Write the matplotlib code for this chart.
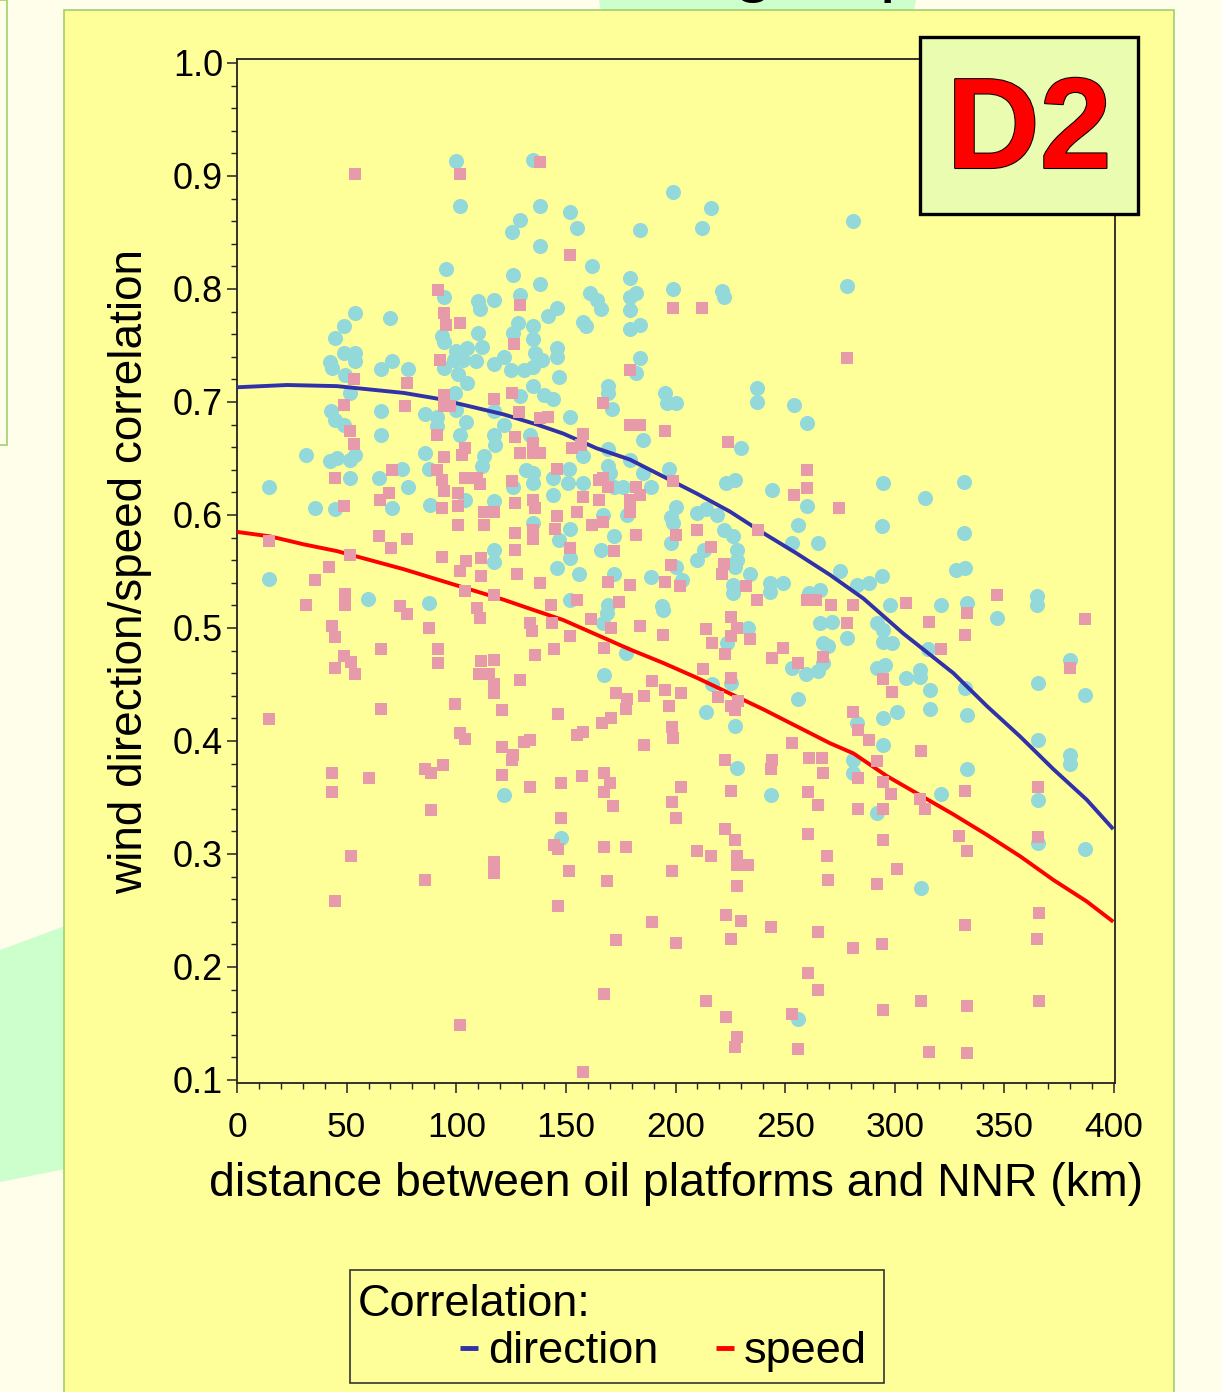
import matplotlib
matplotlib.use("Agg")
import matplotlib.pyplot as plt
import matplotlib.patheffects as pe
from matplotlib.lines import Line2D
from matplotlib.patches import Rectangle, Polygon
from matplotlib.ticker import MultipleLocator, FixedLocator

plt.rcParams["font.family"] = ["Liberation Sans", "DejaVu Sans"]

# ---- data: (distance km, correlation) ----
direction_pts = [
    (100, 0.913), (135, 0.914), (101.5, 0.873), (129, 0.861), (125.4, 0.85), (138, 0.873),
    (152, 0.868), (155, 0.854), (199, 0.886), (216, 0.872), (212, 0.854), (184, 0.852),
    (281, 0.86), (278, 0.803), (138, 0.838), (162, 0.82), (95.4, 0.818), (126, 0.812),
    (138, 0.804), (179, 0.81), (161, 0.796), (164, 0.79), (166, 0.782), (179, 0.793),
    (182, 0.796), (179, 0.781), (199, 0.80), (221, 0.798), (222, 0.793), (94.5, 0.793),
    (129, 0.795), (110, 0.789), (117, 0.79), (111, 0.782), (146, 0.783), (142, 0.776),
    (54, 0.779), (69.6, 0.774), (48.6, 0.767), (44.5, 0.757), (158, 0.771), (159, 0.767),
    (179, 0.765), (184, 0.768), (135, 0.767), (135, 0.756), (93.5, 0.758), (94.2, 0.753),
    (110, 0.761), (111.7, 0.749), (128, 0.77), (126, 0.761), (146, 0.748), (146, 0.74),
    (136, 0.743), (139, 0.737), (135, 0.731), (184, 0.739), (147, 0.722), (182, 0.726),
    (135, 0.714), (140, 0.706), (144, 0.703), (169, 0.714), (169, 0.708), (171, 0.694),
    (195, 0.708), (196, 0.699), (200, 0.699), (237, 0.712), (237, 0.70), (254, 0.697),
    (260, 0.681), (152, 0.687), (185, 0.666), (230, 0.659), (158, 0.652), (169, 0.658),
    (179, 0.649), (169, 0.643), (170, 0.637), (197, 0.641), (185, 0.637), (223, 0.628),
    (227, 0.631), (244, 0.622), (260, 0.608), (256, 0.591), (265, 0.575), (135, 0.637),
    (135, 0.628), (144, 0.633), (144, 0.618), (151, 0.628), (158, 0.628), (172, 0.625),
    (176, 0.625), (189, 0.625), (200, 0.607), (152, 0.588), (147, 0.578), (172, 0.581),
    (178, 0.60), (198, 0.598), (199, 0.593), (210, 0.602), (214, 0.605), (219, 0.60),
    (222, 0.587), (226, 0.581), (198, 0.575), (228, 0.569), (228, 0.56), (227, 0.554),
    (210, 0.56), (213, 0.569), (234, 0.548), (200, 0.554), (203, 0.542), (189, 0.545),
    (166, 0.569), (152, 0.562), (146, 0.553), (156, 0.548), (172, 0.548), (226, 0.538),
    (226, 0.531), (243, 0.54), (243, 0.532), (249, 0.54), (261, 0.531), (266, 0.534),
    (152, 0.525), (169, 0.52), (194, 0.519), (151.5, 0.641), (167, 0.60), (135, 0.593),
    (252.9, 0.575), (48.6, 0.743), (54, 0.743), (54, 0.736), (42.2, 0.735), (43.3, 0.73),
    (70.7, 0.736), (65.7, 0.729), (77.8, 0.729), (94.2, 0.73), (100, 0.745), (105, 0.748),
    (99, 0.737), (103, 0.737), (109, 0.736), (117, 0.734), (121.6, 0.74), (125, 0.728),
    (130.7, 0.728), (101, 0.725), (105, 0.717), (99.5, 0.708), (49.4, 0.724), (51.7, 0.708),
    (129, 0.705), (117, 0.692), (85.9, 0.689), (91, 0.687), (43, 0.692), (44.8, 0.684),
    (48.6, 0.68), (65.7, 0.692), (104.6, 0.682), (100, 0.693), (91, 0.679), (121.6, 0.68),
    (133.7, 0.671), (65.7, 0.671), (101.5, 0.671), (117, 0.671), (117.8, 0.662), (85.9, 0.655),
    (112.5, 0.652), (31.6, 0.653), (42.6, 0.648), (45.6, 0.65), (51.7, 0.649), (54, 0.653),
    (51.7, 0.633), (14.7, 0.625), (64.6, 0.633), (75.2, 0.641), (77.8, 0.625), (87.4, 0.641),
    (111.7, 0.643), (132, 0.64), (126, 0.625), (35.7, 0.606), (44.5, 0.605), (70.7, 0.606),
    (88.1, 0.609), (104, 0.613), (117, 0.612), (117.3, 0.569), (117.3, 0.558), (14.7, 0.543),
    (59.6, 0.526), (87.4, 0.522), (294.8, 0.628), (331.6, 0.629), (313.8, 0.615), (294, 0.59),
    (331.6, 0.584), (275, 0.55), (282.6, 0.538), (288, 0.54), (294, 0.546), (328, 0.551),
    (332, 0.553), (364.7, 0.528), (364.7, 0.52), (297.8, 0.52), (321, 0.52), (332.8, 0.522),
    (168.6, 0.513), (167, 0.504), (194.4, 0.516), (233.1, 0.5), (223.3, 0.487), (252.9, 0.465),
    (259.7, 0.459), (265, 0.462), (267.3, 0.487), (265.8, 0.504), (177.4, 0.478), (167.3, 0.458),
    (216.4, 0.45), (225.5, 0.451), (214.1, 0.426), (227.1, 0.413), (256, 0.437), (228.1, 0.376),
    (243.3, 0.352), (147.6, 0.314), (256, 0.154), (121.6, 0.352), (346.4, 0.509), (271.2, 0.505),
    (278, 0.491), (291.7, 0.504), (294.8, 0.498), (294.8, 0.488), (298.6, 0.487), (269.7, 0.484),
    (315.3, 0.481), (267.4, 0.469), (291.7, 0.465), (295.5, 0.467), (305.1, 0.456), (311.5, 0.463),
    (311.5, 0.457), (316.1, 0.445), (332, 0.447), (379.9, 0.472), (365.4, 0.451), (386.7, 0.441),
    (300.9, 0.426), (316.1, 0.428), (332.8, 0.423), (282.6, 0.416), (294.8, 0.42), (294.8, 0.396),
    (365.4, 0.401), (379.9, 0.388), (379.9, 0.38), (281.1, 0.383), (281.1, 0.372), (332.8, 0.375),
    (365.4, 0.348), (321, 0.353), (291.7, 0.336), (365.4, 0.31), (386.7, 0.304), (312, 0.27),
]

speed_pts = [
    (101.5, 0.902), (138, 0.912), (53.6, 0.902), (152, 0.83), (212, 0.783), (199, 0.783),
    (278, 0.739), (179, 0.728), (167, 0.699), (138, 0.686), (142, 0.687), (179, 0.68),
    (184, 0.68), (195, 0.674), (158, 0.672), (224, 0.665), (135, 0.664), (135, 0.655),
    (138, 0.655), (153, 0.659), (157, 0.662), (199, 0.63), (260, 0.64), (260, 0.624),
    (254, 0.618), (146, 0.641), (158, 0.616), (165, 0.631), (167, 0.633), (169, 0.625),
    (165, 0.613), (182, 0.625), (184, 0.618), (179, 0.613), (179, 0.603), (135, 0.613),
    (136, 0.606), (155, 0.603), (146, 0.599), (145, 0.588), (162, 0.591), (167, 0.594),
    (135, 0.587), (135, 0.579), (182, 0.582), (200, 0.582), (210, 0.587), (216, 0.572),
    (222, 0.557), (221, 0.548), (198, 0.556), (195, 0.541), (202, 0.537), (172, 0.568),
    (152, 0.571), (138, 0.54), (169, 0.541), (179, 0.538), (232, 0.537), (237, 0.525),
    (260, 0.525), (264, 0.525), (155, 0.525), (174, 0.523), (143, 0.52), (237.4, 0.587),
    (91.6, 0.799), (129, 0.786), (94.2, 0.779), (95.4, 0.768), (101.5, 0.77), (126.4, 0.751),
    (92.7, 0.737), (53.5, 0.72), (77.5, 0.717), (94.2, 0.706), (94.2, 0.696), (97.3, 0.696),
    (125.4, 0.708), (117.3, 0.703), (128.4, 0.691), (48.6, 0.697), (76.7, 0.696), (51.7, 0.674),
    (91.2, 0.671), (126.9, 0.669), (53.5, 0.663), (104, 0.659), (102.6, 0.653), (94.2, 0.651),
    (129, 0.655), (44.5, 0.633), (70.7, 0.64), (91.2, 0.64), (93.5, 0.631), (104, 0.633),
    (109.4, 0.633), (111, 0.627), (125.4, 0.63), (94.2, 0.621), (101, 0.619), (69.2, 0.619),
    (65.3, 0.613), (48.6, 0.608), (93.5, 0.606), (101, 0.608), (112.5, 0.603), (117.3, 0.603),
    (112.5, 0.591), (126.9, 0.611), (126.9, 0.584), (100.6, 0.591), (64.6, 0.581), (77.5, 0.579),
    (70.2, 0.571), (14.7, 0.577), (51.7, 0.565), (93.5, 0.563), (111.2, 0.562), (126.9, 0.569),
    (104.6, 0.559), (101.5, 0.55), (111.2, 0.546), (127.7, 0.548), (41.8, 0.554), (35.7, 0.542),
    (49.4, 0.53), (104, 0.533), (117, 0.529), (31.6, 0.52), (49.4, 0.52), (74.5, 0.519),
    (109.4, 0.518), (274.7, 0.606), (346.4, 0.529), (305, 0.522), (271, 0.52), (281, 0.52),
    (77.5, 0.512), (110.6, 0.509), (43.3, 0.502), (44.5, 0.492), (87.4, 0.5), (65.7, 0.481),
    (91.5, 0.481), (91.5, 0.469), (48.6, 0.475), (52, 0.47), (44.5, 0.465), (53.6, 0.459),
    (111.2, 0.471), (117.3, 0.472), (110.2, 0.459), (114.7, 0.459), (117.3, 0.45), (117.3, 0.442),
    (129.2, 0.454), (133.7, 0.504), (134.5, 0.497), (136, 0.476), (14.7, 0.419), (65.7, 0.428),
    (99.5, 0.433), (121, 0.427), (101.5, 0.407), (104, 0.402), (121, 0.395), (130.7, 0.399),
    (133.7, 0.401), (126, 0.388), (125.4, 0.383), (43.3, 0.372), (60, 0.367), (85.9, 0.375),
    (88.4, 0.372), (94, 0.379), (121, 0.37), (133.7, 0.359), (43.3, 0.355), (88.4, 0.339),
    (52, 0.298), (117.3, 0.293), (117.3, 0.283), (85.9, 0.277), (44.5, 0.258), (101.5, 0.149),
    (143.5, 0.504), (151.8, 0.493), (161.4, 0.508), (170.4, 0.5), (184, 0.502), (194.4, 0.494),
    (225.2, 0.51), (214.1, 0.499), (227.8, 0.5), (225.2, 0.493), (233.9, 0.49), (216.4, 0.487),
    (222.5, 0.477), (243.8, 0.473), (249.1, 0.482), (256, 0.469), (267.3, 0.474), (144.5, 0.481),
    (167.3, 0.482), (189.4, 0.453), (195.2, 0.445), (202.3, 0.442), (212.6, 0.464), (225.2, 0.456),
    (219.2, 0.439), (225.2, 0.431), (227.1, 0.427), (228.6, 0.435), (172.8, 0.442), (177.7, 0.437),
    (177.4, 0.428), (185.6, 0.44), (197.1, 0.431), (146.5, 0.424), (166.3, 0.416), (170.4, 0.42),
    (154.9, 0.405), (157.9, 0.408), (198.2, 0.412), (199, 0.403), (185.6, 0.396), (253.2, 0.398),
    (222.5, 0.383), (243.8, 0.383), (243.3, 0.375), (261, 0.385), (267, 0.385), (267.3, 0.372),
    (147.6, 0.363), (157.2, 0.369), (167.3, 0.372), (170.1, 0.363), (167.3, 0.355), (202.3, 0.359),
    (225.2, 0.356), (260.2, 0.355), (264.8, 0.343), (171.3, 0.342), (198.2, 0.346), (200, 0.332),
    (147.6, 0.332), (222.5, 0.322), (227.1, 0.312), (260.2, 0.318), (144.5, 0.308), (146.5, 0.304),
    (167.3, 0.306), (177.4, 0.306), (209.9, 0.303), (216.1, 0.298), (227.8, 0.298), (227.8, 0.29),
    (233.1, 0.29), (268.9, 0.298), (151.5, 0.285), (198.2, 0.285), (168.6, 0.276), (227.8, 0.272),
    (269.3, 0.277), (146.2, 0.254), (223, 0.246), (229.7, 0.241), (189.4, 0.24), (243.3, 0.235),
    (264.8, 0.231), (225.2, 0.225), (172.7, 0.224), (200, 0.221), (260.2, 0.195), (264.8, 0.18),
    (167.3, 0.176), (214.1, 0.17), (223, 0.156), (253.2, 0.158), (227.8, 0.138), (227.1, 0.129),
    (256, 0.127), (157.9, 0.107), (333.1, 0.513), (386.7, 0.508), (278, 0.504), (315.8, 0.505),
    (332, 0.494), (321, 0.481), (294.8, 0.455), (298.6, 0.443), (379.9, 0.465), (281.1, 0.426),
    (283.1, 0.41), (288, 0.401), (312, 0.391), (292, 0.382), (283.1, 0.367), (294.8, 0.364),
    (298.1, 0.353), (332, 0.356), (365.4, 0.359), (311.5, 0.349), (313.8, 0.34), (283.1, 0.34),
    (294.8, 0.34), (294.8, 0.312), (329.3, 0.316), (333.1, 0.303), (365.4, 0.315), (300.9, 0.287),
    (292, 0.273), (365.7, 0.248), (332, 0.237), (364.8, 0.225), (281.1, 0.217), (294, 0.22),
    (312, 0.17), (333.1, 0.165), (365.7, 0.17), (294.8, 0.162), (315.8, 0.125), (333.1, 0.124),
]

# fitted curves
dir_fit_km = [0, 22.8, 45.6, 60.8, 76, 91.2, 106.4, 121.6, 136.8, 148.8, 164, 179.2, 194.4,
              209.6, 224.8, 240, 255.2, 270.4, 285.7, 303.9, 326.7, 341.9, 357.1, 372.3,
              387.5, 399.6]
dir_fit = [0.713, 0.715, 0.714, 0.711, 0.708, 0.703, 0.696, 0.689, 0.680, 0.672, 0.659,
           0.649, 0.634, 0.619, 0.603, 0.584, 0.566, 0.547, 0.526, 0.495, 0.460, 0.431,
           0.404, 0.375, 0.348, 0.322]
spd_fit_km = [0, 15.2, 30.4, 45.6, 60.8, 76, 91.2, 106.4, 121.6, 133.6, 148.8, 164, 179.2,
              194.4, 209.6, 224.8, 240, 255.2, 270.4, 281.1, 296.3, 311.5, 326.7, 341.9,
              357.1, 372.3, 387.5, 399.6]
spd_fit = [0.585, 0.581, 0.574, 0.568, 0.560, 0.552, 0.543, 0.534, 0.525, 0.517, 0.507,
           0.494, 0.481, 0.469, 0.456, 0.442, 0.428, 0.413, 0.398, 0.389, 0.369, 0.352,
           0.335, 0.317, 0.298, 0.277, 0.258, 0.240]

x_ticks = [0, 50, 100, 150, 200, 250, 300, 350, 400]
y_ticks = [0.1, 0.2, 0.3, 0.4, 0.5, 0.6, 0.7, 0.8, 0.9, 1.0]
y_tick_labels = ["0.1", "0.2", "0.3", "0.4", "0.5", "0.6", "0.7", "0.8", "0.9", "1.0"]

CYAN = "#94D9DA"
PINK = "#E69AAA"
BLUE = "#3131A9"
RED = "#FF0000"
PANEL = "#FFFF99"
EDGE_GREEN = "#A0D070"
MINT = "#CCFFCC"

W, H = 1222, 1392


def fx(px):
    return px / W


def fy(py):
    return 1 - py / H


fig = plt.figure(figsize=(W / 100, H / 100), dpi=100)
fig.patch.set_facecolor("#FEFEEA")

# slide decoration behind the chart panel
fig.patches.append(Polygon([(fx(598), fy(-5)), (fx(604), fy(25)), (fx(911), fy(25)), (fx(917), fy(-5))],
                           closed=True, transform=fig.transFigure, facecolor=MINT, edgecolor="none", zorder=-3))
fig.patches.append(Polygon([(fx(-5), fy(952)), (fx(70), fy(924)), (fx(70), fy(1168)), (fx(-5), fy(1183))],
                           closed=True, transform=fig.transFigure, facecolor=MINT, edgecolor="none", zorder=-3))
fig.patches.append(Rectangle((fx(-60), fy(445)), fx(67), 445 / H, transform=fig.transFigure,
                             facecolor="none", edgecolor=EDGE_GREEN, lw=1.2, zorder=-2))
fig.patches.append(Rectangle((fx(64), fy(1410)), fx(1110), 1400 / H, transform=fig.transFigure,
                             facecolor=PANEL, edgecolor=EDGE_GREEN, lw=1.2, zorder=-1))
# slide title, only its lowest strokes fall inside the screenshot
fig.text(fx(733), fy(-12), "group", fontsize=53, ha="left", va="baseline", zorder=-0.5)

ax = fig.add_axes([fx(237), fy(1083), (1115 - 237) / W, (1083 - 59) / H])
ax.set_facecolor(PANEL)

dx, dy = zip(*direction_pts)
sx, sy = zip(*speed_pts)
ax.scatter(dx, dy, s=118, marker="o", color=CYAN, linewidths=0, zorder=2)
ax.plot(dir_fit_km, dir_fit, color=BLUE, lw=2.8, zorder=3, solid_capstyle="butt")
ax.plot(spd_fit_km, spd_fit, color=RED, lw=2.8, zorder=3, solid_capstyle="butt")
ax.scatter(sx, sy, s=75, marker="s", color=PINK, linewidths=0, zorder=4)

ax.set_xlim(0, 400.4)
ax.set_ylim(0.0973, 1.0035)
ax.xaxis.set_major_locator(FixedLocator(x_ticks))
ax.xaxis.set_minor_locator(MultipleLocator(10))
ax.yaxis.set_major_locator(FixedLocator(y_ticks))
ax.yaxis.set_minor_locator(MultipleLocator(0.02))
ax.set_xticklabels([str(t) for t in x_ticks])
ax.set_yticklabels(y_tick_labels)
ax.tick_params(which="major", length=7, width=1.1, color="#222222")
ax.tick_params(which="minor", length=4.5, width=1.0, color="#222222")
ax.tick_params(axis="x", which="major", pad=13, labelsize=25.5)
ax.tick_params(axis="y", which="major", pad=3, labelsize=26)
for sp in ax.spines.values():
    sp.set_linewidth(1.3)
    sp.set_color("#222222")

ax.set_xlabel("distance between oil platforms and NNR (km)", fontsize=33.4)
ax.xaxis.set_label_coords(0.5, -0.077)
ax.set_ylabel("wind direction/speed correlation", fontsize=33)
ax.yaxis.set_label_coords(-0.097, 0.5)

# "D2" panel tag
fig.patches.append(Rectangle((fx(920), fy(214)), fx(218), 177 / H, transform=fig.transFigure,
                             facecolor="#EAFCB0", edgecolor="black", lw=2.4, zorder=5))
fig.text(fx(1029), fy(168), "D2", fontsize=93, fontweight="bold", color=RED, ha="center",
         va="baseline", zorder=6, path_effects=[pe.withStroke(linewidth=1.5, foreground="black")])

# legend box
fig.patches.append(Rectangle((fx(350), fy(1383)), fx(534), 113 / H, transform=fig.transFigure,
                             facecolor=PANEL, edgecolor="#333333", lw=1.2, zorder=5))
fig.text(fx(358), fy(1316), "Correlation:", fontsize=32.5, ha="left", va="baseline", zorder=6)
fig.lines.append(Line2D([fx(460), fx(478)], [fy(1348), fy(1348)], transform=fig.transFigure,
                        color=BLUE, lw=3.5, solid_capstyle="butt", zorder=6))
fig.text(fx(488), fy(1363), "direction", fontsize=32.5, ha="left", va="baseline", zorder=6)
fig.lines.append(Line2D([fx(716), fx(734)], [fy(1348), fy(1348)], transform=fig.transFigure,
                        color=RED, lw=3.5, solid_capstyle="butt", zorder=6))
fig.text(fx(744), fy(1363), "speed", fontsize=32.5, ha="left", va="baseline", zorder=6)

fig.savefig("out.png", dpi=100, facecolor=fig.get_facecolor())
